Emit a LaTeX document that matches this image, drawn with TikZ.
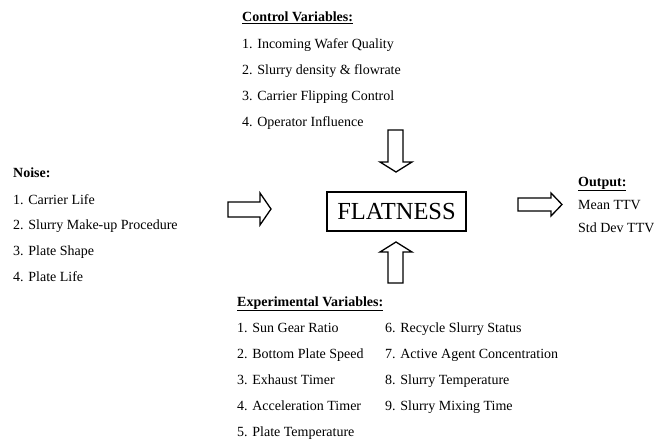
\documentclass[tikz,border=0pt]{standalone}
\usepackage{fontspec}
\setmainfont{Liberation Serif}
\begin{document}
\begin{tikzpicture}[x=1pt,y=-1pt,
  lbl/.style={anchor=base west,inner sep=0pt,font=\fontsize{14}{16}\selectfont},
  hdr/.style={lbl,font=\fontsize{14}{16}\selectfont\bfseries},
  blockarrow/.style={draw=black,line width=1.3pt,fill=white,line join=miter},
  mainbox/.style={draw=black,line width=1.3pt,minimum width=139pt,minimum height=39pt,inner sep=0pt,font=\fontsize{24.5}{27}\selectfont}]
\useasboundingbox (0,0) rectangle (654,444);
% Control variables
\node[hdr] (ch) at (242,22) {\underline{Control Variables:}};
\node[lbl] (c1) at (242,49) {1. Incoming Wafer Quality};
\node[lbl] (c2) at (242,75) {2. Slurry density \& flowrate};
\node[lbl] (c3) at (242,101) {3. Carrier Flipping Control};
\node[lbl] (c4) at (242,126) {4. Operator Influence};
% Noise
\node[hdr] (nh) at (13,177) {Noise:};
\node[lbl] (n1) at (13,204) {1. Carrier Life};
\node[lbl] (n2) at (13,229) {2. Slurry Make-up Procedure};
\node[lbl] (n3) at (13,255) {3. Plate Shape};
\node[lbl] (n4) at (13,281) {4. Plate Life};
% Main box
\node[mainbox] (flat) at (396.5,211.5) {FLATNESS};
% Output
\node[hdr] (oh) at (578,186) {\underline{Output:}};
\node[lbl] (o1) at (578,209) {Mean TTV};
\node[lbl] (o2) at (578,232) {Std Dev TTV};
% Experimental variables
\node[hdr] (eh) at (237,306) {\underline{Experimental Variables:}};
\node[lbl] (e1) at (237,332) {1. Sun Gear Ratio};
\node[lbl] (e2) at (237,358) {2. Bottom Plate Speed};
\node[lbl] (e3) at (237,384) {3. Exhaust Timer};
\node[lbl] (e4) at (237,410) {4. Acceleration Timer};
\node[lbl] (e5) at (237,436) {5. Plate Temperature};
\node[lbl] (e6) at (385,332) {6. Recycle Slurry Status};
\node[lbl] (e7) at (385,358) {7. Active Agent Concentration};
\node[lbl] (e8) at (385,384) {8. Slurry Temperature};
\node[lbl] (e9) at (385,410) {9. Slurry Mixing Time};
% Block arrows
\draw[blockarrow] (228,202) -- (260,202) -- (260,193) -- (271,209) -- (260,225) -- (260,217) -- (228,217) -- cycle;
\draw[blockarrow] (518,198) -- (551,198) -- (551,193) -- (562,204.5) -- (551,216) -- (551,211) -- (518,211) -- cycle;
\draw[blockarrow] (388,130) -- (403,130) -- (403,162) -- (412,162) -- (396,172) -- (380,162) -- (388,162) -- cycle;
\draw[blockarrow] (388,283) -- (403,283) -- (403,252) -- (412,252) -- (396,242) -- (380,252) -- (388,252) -- cycle;
\end{tikzpicture}
\end{document}
